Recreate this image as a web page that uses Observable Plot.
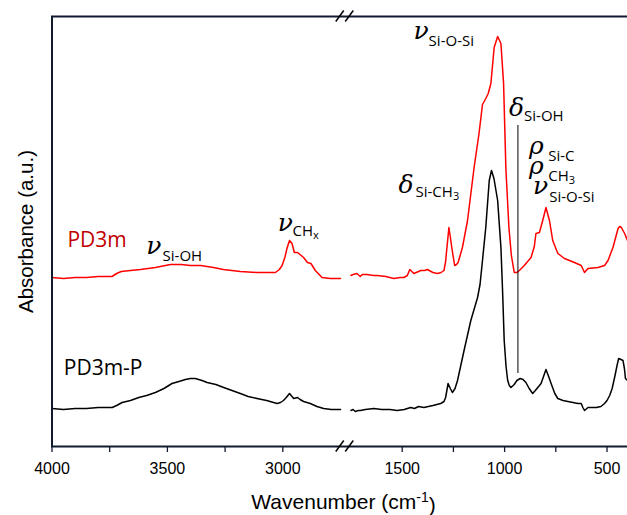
<!DOCTYPE html>
<html><head><meta charset="utf-8">
<script src="https://cdn.jsdelivr.net/npm/d3@7"></script>
<script src="https://cdn.jsdelivr.net/npm/@observablehq/plot@0.6"></script>
<style>body{margin:0;background:#fff;} #chart svg{display:block;}</style>
</head><body><div id="chart"></div>
<script>
// ---- data (wavenumber cm-1, absorbance a.u.) ----
const pd3mHigh = [[4000,1.69],[3950,1.68],[3900,1.69],[3850,1.69],[3800,1.70],[3740,1.70],[3720,1.73],[3700,1.75],[3660,1.76],[3617,1.77],[3552,1.79],[3487,1.82],[3440,1.82],[3400,1.81],[3357,1.81],[3300,1.79],[3258,1.77],[3184,1.75],[3112,1.74],[3060,1.74],[3032,1.74],[3015,1.77],[3003,1.81],[2990,1.90],[2982,1.98],[2971,2.06],[2960,2.03],[2950,1.94],[2936,1.94],[2910,1.89],[2893,1.84],[2878,1.83],[2859,1.76],[2830,1.69],[2794,1.68],[2750,1.68]];
const pd3mLow = [[1753,1.71],[1740,1.72],[1721,1.73],[1705,1.70],[1695,1.72],[1672,1.72],[1640,1.71],[1623,1.71],[1580,1.70],[1541,1.68],[1510,1.69],[1492,1.69],[1475,1.71],[1463,1.77],[1443,1.73],[1420,1.75],[1410,1.76],[1390,1.76],[1377,1.77],[1350,1.74],[1328,1.73],[1310,1.74],[1296,1.76],[1288,1.85],[1283,1.96],[1272,2.19],[1264,2.08],[1258,1.99],[1244,1.81],[1235,1.82],[1227,1.84],[1206,1.99],[1181,2.26],[1149,2.79],[1125,3.13],[1108,3.42],[1092,3.48],[1080,3.53],[1067,3.63],[1051,3.99],[1034,4.10],[1018,4.03],[1005,3.63],[994,2.79],[979,2.19],[967,1.91],[953,1.74],[940,1.74],[928,1.76],[904,1.81],[871,1.89],[855,2.00],[847,2.13],[830,2.14],[814,2.26],[798,2.39],[781,2.26],[765,2.06],[740,1.93],[708,1.88],[659,1.84],[626,1.81],[610,1.74],[593,1.78],[544,1.79],[512,1.81],[495,1.86],[471,1.99],[446,2.18],[438,2.20],[430,2.19],[414,2.13],[400,2.06]];
const pd3mPHigh = [[4000,0.38],[3950,0.37],[3900,0.38],[3850,0.38],[3800,0.39],[3739,0.39],[3720,0.41],[3696,0.44],[3660,0.46],[3624,0.49],[3590,0.51],[3552,0.54],[3515,0.58],[3480,0.63],[3450,0.65],[3422,0.67],[3400,0.68],[3379,0.68],[3350,0.66],[3328,0.64],[3290,0.62],[3256,0.59],[3220,0.56],[3184,0.53],[3150,0.50],[3112,0.48],[3070,0.46],[3025,0.43],[3010,0.44],[2997,0.46],[2985,0.49],[2971,0.53],[2960,0.50],[2953,0.48],[2936,0.49],[2925,0.47],[2910,0.45],[2881,0.43],[2852,0.40],[2823,0.38],[2790,0.37],[2750,0.37]];
const pd3mPLow = [[1753,0.36],[1740,0.37],[1729,0.35],[1715,0.36],[1704,0.36],[1680,0.37],[1639,0.38],[1600,0.37],[1560,0.37],[1525,0.36],[1490,0.37],[1459,0.39],[1440,0.38],[1420,0.40],[1394,0.39],[1350,0.41],[1312,0.43],[1296,0.45],[1288,0.49],[1276,0.63],[1265,0.58],[1255,0.54],[1242,0.58],[1230,0.66],[1215,0.80],[1198,0.96],[1165,1.26],[1132,1.49],[1120,1.62],[1108,1.86],[1092,2.19],[1075,2.66],[1064,2.76],[1052,2.68],[1034,2.46],[1018,1.99],[1010,1.56],[1002,1.06],[993,0.80],[985,0.66],[977,0.61],[969,0.59],[953,0.62],[940,0.66],[924,0.68],[910,0.67],[896,0.64],[880,0.58],[863,0.53],[850,0.56],[838,0.59],[822,0.63],[810,0.70],[798,0.77],[785,0.70],[773,0.63],[755,0.53],[740,0.48],[715,0.46],[691,0.45],[642,0.43],[626,0.43],[618,0.39],[610,0.36],[593,0.39],[552,0.39],[530,0.40],[512,0.43],[500,0.46],[487,0.51],[475,0.58],[463,0.69],[450,0.82],[443,0.88],[432,0.87],[422,0.86],[415,0.78],[410,0.68],[400,0.66]];

const xDomain = [4000, 2750, 1750, 400];      // broken axis: 4000–2750 | 1750–400
const yDomain = [0, 4.3];
const xTicks = [4000, 3500, 3000, 1500, 1000, 500];
const xMinorTicks = [3750, 3250, 1250, 750];

const seriesNames = ["PD3m", "PD3m-P"];
const seriesLabelWn = [3933, 3949];
const seriesLabelA = [2.00, 0.72];
const seriesColors = ["#ff0000", "#000000"];
const seriesLabelColors = ["#c00000", "#000000"];

// band assignments: symbol, subscript, positions
const bandSymbols = ["ν", "ν", "ν", "δ", "δ", "ρ", "ρ", "ν"];
const bandSubs = ["Si-OH", "CH_x", "Si-O-Si", "Si-CH_3", "Si-OH", "Si-C", "CH_3", "Si-O-Si"];
const bandSymWn = [3592, 3022, 1445, 1518, 979, 881, 881, 861];
const bandSymA  = [1.93, 2.16, 4.08, 2.54, 3.31, 2.93, 2.73, 2.53];
const bandSubWn = [3521, 2958, 1371, 1435, 905, 787, 787, 782];
const bandSubA  = [1.86, 2.11, 4.01, 2.50, 3.26, 2.86, 2.66, 2.45];
const markerLineWn = [935];
const markerLineA = [0.73, 3.21];

// ---- build tables ----
const rows = [];
[[pd3mHigh, 0, "a"], [pd3mLow, 0, "b"], [pd3mPHigh, 1, "a"], [pd3mPLow, 1, "b"]].forEach(([arr, s, seg]) => {
  for (const [wn, a] of arr) rows.push({wn, a, series: seriesNames[s], seg: seriesNames[s] + seg});
});
const labels = seriesNames.map((n, i) => ({n, wn: seriesLabelWn[i], a: seriesLabelA[i], c: seriesLabelColors[i]}));
const syms = bandSymbols.map((s, i) => ({s, wn: bandSymWn[i], a: bandSymA[i]}));
const subs = bandSubs.map((s, i) => ({s, wn: bandSubWn[i], a: bandSubA[i]}));

const axisColor = "#111a2e";

const plot = Plot.plot({
  width: 627, height: 515,
  marginLeft: 51, marginRight: 0, marginTop: 16, marginBottom: 69,
  style: {fontFamily: "Liberation Sans", background: "#fff", overflow: "visible"},
  x: {type: "linear", domain: xDomain, range: [51.5, 340, 350.5, 627], axis: null},
  y: {domain: yDomain, axis: null},
  marks: [
    Plot.line(rows.filter(d => d.series === seriesNames[0]), {x: "wn", y: "a", z: "seg", stroke: seriesColors[0], strokeWidth: 1.5}),
    Plot.line(rows.filter(d => d.series === seriesNames[1]), {x: "wn", y: "a", z: "seg", stroke: seriesColors[1], strokeWidth: 1.5}),
    Plot.ruleX(markerLineWn, {y1: markerLineA[0], y2: markerLineA[1], stroke: "#000", strokeWidth: 1}),
    Plot.ruleY([yDomain[0]], {stroke: axisColor, strokeWidth: 2}),
    Plot.ruleY([yDomain[1]], {stroke: axisColor, strokeWidth: 2}),
    Plot.ruleX([xDomain[0]], {stroke: axisColor, strokeWidth: 2}),
    Plot.axisX(xTicks, {tickSize: 6, tickPadding: 10, fontSize: 16, tickFormat: d => String(d), color: "#000", stroke: axisColor, strokeWidth: 1.3, label: null}),
    Plot.axisX(xMinorTicks, {tickSize: 6, tickFormat: () => "", stroke: axisColor, strokeWidth: 1.3, label: null}),
    Plot.text(labels, {x: "wn", y: "a", text: "n", fill: "c", textAnchor: "start", lineAnchor: "bottom", fontSize: 21, fontFamily: "Open Sans"}),
    Plot.text(syms, {x: "wn", y: "a", text: "s", textAnchor: "start", lineAnchor: "bottom", fontSize: 25, fontStyle: "italic", fontFamily: "DejaVu Serif", fill: "#000"}),
    Plot.text(subs, {x: "wn", y: "a", text: "s", textAnchor: "start", lineAnchor: "bottom", fontSize: 15, fontFamily: "Open Sans", fill: "#000"}),
    Plot.text(["Absorbance (a.u.)"], {frameAnchor: "left", textAnchor: "middle", rotate: -90, dx: -25, fontSize: 20.5, fill: "#000"}),
    Plot.text(["Wavenumber (cm^-1^)"], {frameAnchor: "bottom", textAnchor: "middle", dx: 4, dy: 62, lineAnchor: "bottom", fontSize: 21, fill: "#000"})
  ]
});

// rich text: subscripts "_x" and superscripts "^..^"
const svg = d3.select(plot);
svg.selectAll("text").each(function () {
  const t = this.textContent;
  if (t.includes("_")) {
    const [main, sub] = t.split("_");
    const el = d3.select(this); el.text(main);
    el.append("tspan").attr("dy", "0.3em").attr("font-size", "11px").text(sub);
  } else if (t.includes("^")) {
    const [a, b, c] = t.split("^");
    const el = d3.select(this); el.text(a);
    el.append("tspan").attr("dy", "-0.5em").attr("font-size", "14px").text(b);
    el.append("tspan").attr("dy", "0.5em").text(c);
  }
});

// axis-break marks (//) on top and bottom frame lines
const sx = plot.scale("x"), sy = plot.scale("y");
const cx = (sx.apply(xDomain[1]) + sx.apply(xDomain[2])) / 2;
const gb = svg.append("g").attr("stroke", "#000").attr("stroke-width", 1.5);
for (const yv of yDomain) {
  const py = sy.apply(yv);
  for (const off of [-5.5, 4]) {
    gb.append("line").attr("x1", cx + off - 4).attr("y1", py + 5.5).attr("x2", cx + off + 4).attr("y2", py - 5.5);
  }
}
document.getElementById("chart").append(plot);
</script></body></html>
